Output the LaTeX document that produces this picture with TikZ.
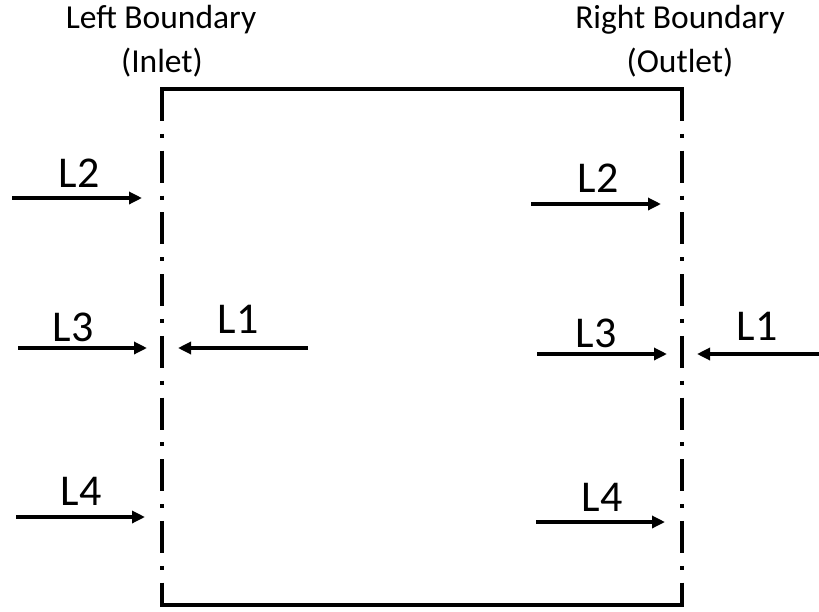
\documentclass[tikz,border=0pt]{standalone}
\usepackage{fontspec}
\setmainfont{Carlito}
\usetikzlibrary{arrows.meta}
\begin{document}
\begin{tikzpicture}[x=1pt,y=-1pt,
  boundary/.style={line width=4pt,line cap=butt,
    dash pattern=on 32pt off 12.85pt on 4pt off 12.85pt},
  wall/.style={line width=4pt},
  flow/.style={line width=3.2pt,-{Triangle[length=13pt,width=12pt]}},
  head/.style={font=\fontsize{33.5}{40}\selectfont,anchor=base,inner sep=0pt},
  lab/.style={font=\fontsize{44}{50}\selectfont,anchor=base,inner sep=0pt}]
\useasboundingbox (0,0) rectangle (819,611);
% domain
\coordinate (TL) at (162,89);
\coordinate (TR) at (682,89);
\coordinate (BL) at (162,605);
\coordinate (BR) at (682,605);
\draw[wall] ([xshift=-2pt]TL) -- ([xshift=2pt]TR);
\draw[wall] ([xshift=-2pt]BL) -- ([xshift=2pt]BR);
\draw[boundary] (TL) -- (BL);
\draw[boundary] (TR) -- (BR);
% headings
\node[head] (lb) at (161,28) {Left Boundary};
\node[head] (li) at (162,72) {(Inlet)};
\node[head] (rb) at (680,28) {Right Boundary};
\node[head] (ro) at (680,72) {(Outlet)};
% arrow end points
\coordinate (a2s) at (12,198);  \coordinate (a2e) at (142,198);
\coordinate (a3s) at (18,348);  \coordinate (a3e) at (147,348);
\coordinate (a1s) at (308,348); \coordinate (a1e) at (178,348);
\coordinate (a4s) at (16,517);  \coordinate (a4e) at (145,517);
\coordinate (b2s) at (531,204); \coordinate (b2e) at (661,204);
\coordinate (b3s) at (537,354); \coordinate (b3e) at (667,354);
\coordinate (b1s) at (819,354); \coordinate (b1e) at (697,354);
\coordinate (b4s) at (536,522); \coordinate (b4e) at (665,522);
\draw[flow] (a2s) -- (a2e);
\draw[flow] (a3s) -- (a3e);
\draw[flow] (a1s) -- (a1e);
\draw[flow] (a4s) -- (a4e);
\draw[flow] (b2s) -- (b2e);
\draw[flow] (b3s) -- (b3e);
\draw[flow] (b1s) -- (b1e);
\draw[flow] (b4s) -- (b4e);
% labels
\node[lab] (tl2) at (79,187) {L2};
\node[lab] (tl3) at (73,341) {L3};
\node[lab] (tl1) at (238,333) {L1};
\node[lab] (tl4) at (81,505) {L4};
\node[lab] (tr2) at (598,192) {L2};
\node[lab] (tr3) at (596,347) {L3};
\node[lab] (tr1) at (757,340) {L1};
\node[lab] (tr4) at (602,511) {L4};
\end{tikzpicture}
\end{document}
